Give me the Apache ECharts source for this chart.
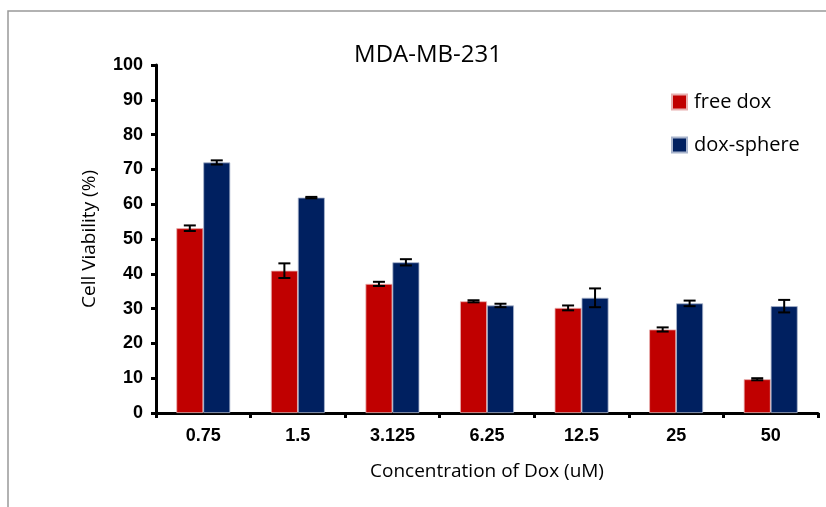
<!DOCTYPE html>
<html><head><meta charset="utf-8">
<script src="https://cdn.jsdelivr.net/npm/echarts@6/dist/echarts.min.js"></script>
<style>html,body{margin:0;padding:0;background:#fff}#c{width:826px;height:507px}</style>
</head><body><div id="c"></div>
<script>
const categories = ['0.75','1.5','3.125','6.25','12.5','25','50'];
const freeDox = [53.1, 40.9, 37.1, 32.1, 30.2, 24.0, 9.7];
const freeDoxErr = [0.8, 2.1, 0.6, 0.3, 0.7, 0.6, 0.3];
const doxSphere = [72.0, 61.9, 43.3, 30.9, 33.1, 31.5, 30.7];
const doxSphereErr = [0.6, 0.2, 0.9, 0.5, 2.7, 0.8, 1.8];
const yTicks = [0,10,20,30,40,50,60,70,80,90,100];

const BAR_FRAC = 0.285;
function errSeries(vals, errs, side){
  return {
    type:'custom', z:10, silent:true,
    data: vals.map((v,i)=>[i, v, errs[i]]),
    renderItem:function(params, api){
      const i = api.value(0), v = api.value(1), e = api.value(2);
      const band = api.size([1,0])[0];
      const bw = band*BAR_FRAC;
      const c = api.coord([i, v]);
      const x = c[0] + side*bw/2;
      const top = api.coord([i, v+e])[1];
      const bot = api.coord([i, v-e])[1];
      const hw = 6;
      const st = {stroke:'#000', lineWidth:2};
      return {type:'group', children:[
        {type:'line', shape:{x1:x,y1:top,x2:x,y2:bot}, style:st},
        {type:'line', shape:{x1:x-hw,y1:top,x2:x+hw,y2:top}, style:st},
        {type:'line', shape:{x1:x-hw,y1:bot,x2:x+hw,y2:bot}, style:st}
      ]};
    }
  };
}

const chart = echarts.init(document.getElementById('c'));
chart.setOption({
  animation:false,
  backgroundColor:'#fff',
  title:{text:'MDA-MB-231', left:423, top:38, textAlign:'center',
    textStyle:{fontFamily:'Open Sans', fontSize:24, fontWeight:'normal', color:'#000'}},
  legend:{orient:'vertical', left:666, top:87, itemWidth:15, itemHeight:15, itemGap:23,
    icon:'rect', textStyle:{fontFamily:'Open Sans', fontSize:20, color:'#000', padding:[0,0,0,2]},
    data:['free dox','dox-sphere']},
  graphic:[{type:'polyline', shape:{points:[[8,507],[8,11],[826,11]]},
    style:{stroke:'#999', lineWidth:1.5, fill:null}}],
  grid:{left:156, right:8, top:65, bottom:94, containLabel:false},
  xAxis:{type:'category', data:categories,
    name:'Concentration of Dox (uM)', nameLocation:'middle', nameGap:49,
    nameTextStyle:{fontFamily:'Open Sans', fontSize:19, color:'#000'},
    axisLine:{lineStyle:{color:'#000', width:3}},
    axisTick:{show:true, inside:false, length:5, lineStyle:{color:'#000', width:3}},
    axisLabel:{fontFamily:'Liberation Sans', fontWeight:'bold', fontSize:18, color:'#000', margin:14}},
  yAxis:{type:'value', min:0, max:100, interval:10,
    name:'Cell Viability (%)', nameLocation:'middle', nameGap:57,
    nameTextStyle:{fontFamily:'Open Sans', fontSize:19, color:'#000'},
    axisLine:{show:true, lineStyle:{color:'#000', width:3}},
    axisTick:{show:true, inside:false, length:5, lineStyle:{color:'#000', width:3}},
    splitLine:{show:false},
    axisLabel:{fontFamily:'Liberation Sans', fontWeight:'bold', fontSize:18, color:'#000', margin:13}},
  series:[
    {name:'free dox', type:'bar', data:freeDox, barWidth:(BAR_FRAC*100)+'%', barGap:'0%',
      itemStyle:{color:'#C00000', borderColor:'#e8b0b0', borderWidth:0.8}},
    {name:'dox-sphere', type:'bar', data:doxSphere, barWidth:(BAR_FRAC*100)+'%', barGap:'0%',
      itemStyle:{color:'#002060', borderColor:'#a8b4cc', borderWidth:0.8}},
    errSeries(freeDox, freeDoxErr, -1),
    errSeries(doxSphere, doxSphereErr, 1)
  ]
});
</script></body></html>
